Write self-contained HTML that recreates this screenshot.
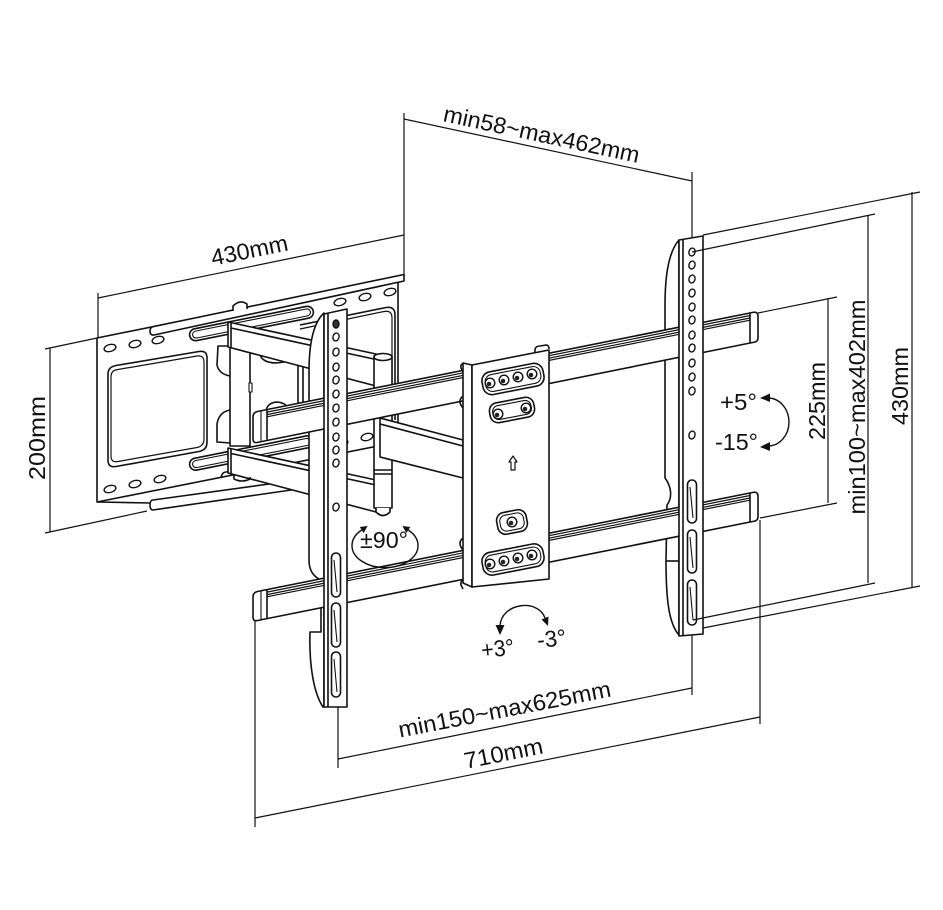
<!DOCTYPE html>
<html><head><meta charset="utf-8">
<style>
html,body{margin:0;padding:0;background:#fff;}
svg{display:block;}
text{font-family:"Liberation Sans",sans-serif;fill:#111;stroke:none;}
</style></head><body>
<svg width="943" height="910" viewBox="0 0 943 910" xmlns="http://www.w3.org/2000/svg">
<rect width="943" height="910" fill="#fff"/>

<!-- dimension lines -->
<g fill="none" stroke="#111" stroke-width="1.2">
<line x1="404" y1="113" x2="404" y2="275"/>
<line x1="692" y1="172" x2="692" y2="248"/>
<line x1="404" y1="119" x2="692" y2="181"/>
<line x1="98" y1="293" x2="98" y2="338"/>
<line x1="98" y1="298" x2="404" y2="235"/>
<line x1="50" y1="348" x2="50" y2="532"/>
<line x1="45" y1="349" x2="97" y2="338"/>
<line x1="45" y1="533" x2="147" y2="511"/>
<line x1="338" y1="698" x2="338" y2="768"/>
<line x1="692" y1="635" x2="692" y2="695"/>
<line x1="338" y1="759" x2="692" y2="688"/>
<line x1="255" y1="621" x2="255" y2="827"/>
<line x1="760" y1="520" x2="760" y2="724"/>
<line x1="255" y1="818" x2="760" y2="717"/>
<line x1="828" y1="298" x2="828" y2="503"/>
<line x1="758" y1="313" x2="837" y2="297"/>
<line x1="760" y1="518" x2="837" y2="503"/>
<line x1="868" y1="215" x2="868" y2="583"/>
<line x1="912" y1="192" x2="912" y2="587"/>
</g>

<!-- dimension texts -->
<g font-size="23">
<text x="251" y="258" text-anchor="middle" textLength="78" lengthAdjust="spacingAndGlyphs" transform="rotate(-11.5 251 258)">430mm</text>
<text x="540" y="142" text-anchor="middle" textLength="200" lengthAdjust="spacingAndGlyphs" transform="rotate(12.1 540 142)">min58~max462mm</text>
<text x="45" y="438" text-anchor="middle" textLength="84" lengthAdjust="spacingAndGlyphs" transform="rotate(-90 45 438)">200mm</text>
<text x="825" y="401" text-anchor="middle" textLength="78" lengthAdjust="spacingAndGlyphs" transform="rotate(-90 825 401)">225mm</text>
<text x="865" y="407" text-anchor="middle" textLength="215" lengthAdjust="spacingAndGlyphs" transform="rotate(-90 865 407)">min100~max402mm</text>
<text x="908" y="386" text-anchor="middle" textLength="78" lengthAdjust="spacingAndGlyphs" transform="rotate(-90 908 386)">430mm</text>
<text x="506" y="717" text-anchor="middle" textLength="216" lengthAdjust="spacingAndGlyphs" transform="rotate(-11 506 717)">min150~max625mm</text>
<text x="505" y="761" text-anchor="middle" textLength="80" lengthAdjust="spacingAndGlyphs" transform="rotate(-11.3 505 761)">710mm</text>
<text x="720" y="410" textLength="37" lengthAdjust="spacingAndGlyphs">+5°</text>
<text x="715" y="450" textLength="43" lengthAdjust="spacingAndGlyphs">-15°</text>
<text x="482" y="658" textLength="33" lengthAdjust="spacingAndGlyphs" transform="rotate(-6 482 658)">+3°</text>
<text x="538" y="648" textLength="29" lengthAdjust="spacingAndGlyphs" transform="rotate(-6 538 648)">-3°</text>
<text x="360" y="548" textLength="48" lengthAdjust="spacingAndGlyphs">±90°</text>
</g>

<g fill="#fff" stroke="#111" stroke-width="1.6" stroke-linejoin="round">
<!-- wall plate -->
<path d="M97,338 L398,277 L398,442 L97,502 Z"/>
<path d="M150,331 Q150,327 154,326.5 L404,274.5 L404,281 L154,335 Q150,335.5 150,331 Z"/>
<line x1="97" y1="502" x2="150" y2="503"/>
<path d="M153,500 L298,480 L298,489 L153,510 Q150,510 150,505 Q150,500 153,500 Z"/>
<!-- ovals -->
<g stroke-width="1.4">
<ellipse cx="110" cy="348" rx="6" ry="3.5" transform="rotate(-15 110 348)"/>
<ellipse cx="135" cy="344" rx="6" ry="3.5" transform="rotate(-15 135 344)"/>
<ellipse cx="158" cy="340" rx="6" ry="3.5" transform="rotate(-15 158 340)"/>
<ellipse cx="110" cy="489" rx="6" ry="3.5" transform="rotate(-15 110 489)"/>
<ellipse cx="135" cy="484" rx="6" ry="3.5" transform="rotate(-15 135 484)"/>
<ellipse cx="160" cy="479" rx="6" ry="3.5" transform="rotate(-15 160 479)"/>
<ellipse cx="340" cy="302" rx="6" ry="3.5" transform="rotate(-15 340 302)"/>
<ellipse cx="365" cy="297" rx="6" ry="3.5" transform="rotate(-15 365 297)"/>
<ellipse cx="390" cy="292" rx="6" ry="3.5" transform="rotate(-15 390 292)"/>
<ellipse cx="342" cy="443" rx="6" ry="3.5" transform="rotate(-15 342 443)"/>
<ellipse cx="367" cy="437" rx="6" ry="3.5" transform="rotate(-15 367 437)"/>
<ellipse cx="390" cy="432" rx="6" ry="3.5" transform="rotate(-15 390 432)"/>
</g>
<!-- long slots -->
<rect x="188.5" y="317.5" width="126" height="12" rx="6" transform="rotate(-11.3 251.5 323.5)"/>
<rect x="191.5" y="320" width="120" height="7" rx="3.5" transform="rotate(-11.3 251.5 323.5)" stroke-width="1.1"/>
<rect x="188.5" y="447" width="126" height="12" rx="6" transform="rotate(-11.3 251.5 453)"/>
<rect x="191.5" y="449.5" width="120" height="7" rx="3.5" transform="rotate(-11.3 251.5 453)" stroke-width="1.1"/>
<!-- big cutout -->
<path d="M116,365.5 L199,351.5 Q207,350 207,358 L207,442 Q207,450 199,451.5 L116,466.5 Q108,468 108,460 L108,374 Q108,367 116,365.5 Z"/>
<path d="M118,369.5 L197,356 Q204,355 204,362 L204,439 Q204,446 197,447.5 L118,461.5 Q111,463 111,456 L111,377 Q111,370 118,369.5 Z" stroke-width="1.2"/>
<!-- right cutout -->
<path d="M300,325 L386,307.5 Q395,306 395,315 L395,420" fill="none"/>
<path d="M300,329 L384,311.5 Q392,310 392,318 L392,420" fill="none" stroke-width="1.2"/>
<!-- knob -->
<path d="M233,311 L233,306 Q240,299 247,304 L247,309"/>

<!-- wall pivot -->
<path d="M230,346 L218,346 L217,365 Q219,374 230,376"/>
<path d="M230,410 Q219,412 217,424 L217,442 L230,443"/>
<rect x="230" y="346" width="20" height="100"/>
<rect x="249" y="383" width="3" height="9" stroke-width="1.1"/>
<path d="M260,349 C258,360 268,365 284,362" fill="none"/>
<path d="M266,414 C265,403 276,399 286,405" fill="none"/>
<line x1="298" y1="360" x2="298" y2="406"/>
<line x1="303" y1="361" x2="303" y2="406"/>

<!-- inner arms -->
<path d="M228,322 L376,354 L376,386 L228,347 Z"/>
<line x1="231" y1="322.6" x2="231" y2="347.6"/>
<line x1="231" y1="328" x2="376" y2="359.5"/>
<path d="M228,448 L376,480 L376,512 L228,473 Z"/>
<line x1="231" y1="448.6" x2="231" y2="473.6"/>
<line x1="231" y1="453.5" x2="376" y2="485"/>
<path d="M221,478 Q222,471 228,472" fill="none"/>
<path d="M234,474 L234,479 Q242,483 250,479 L250,477" fill="none"/>

<!-- mid pivot -->
<rect x="374" y="356" width="18" height="152"/>
<ellipse cx="383" cy="357" rx="9" ry="3.5"/>
<line x1="374" y1="470" x2="392" y2="470"/>
<line x1="374" y1="474" x2="392" y2="474"/>
<path d="M376,508 L376,512 Q383,519 390,512 L390,508"/>

<!-- outer arm -->
<path d="M380,418 L463,440 L463,478 L380,457 Z"/>
<line x1="380" y1="424" x2="463" y2="446"/>

<!-- bracket flanges -->
<path d="M324,313 C314,322 309,342 309,372 L309,560 C309,571 314,577 321,580 L321,632 L310,632 C309,662 313,692 323,707 L324,707 Z"/>
<path d="M679,240 C670,250 665,272 665,305 L665,478 C671,486 673,497 667,505 L666,561 C666,600 669,624 679,635 Z"/>
<line x1="666" y1="561" x2="679" y2="561"/>

<!-- upper rail -->
<path d="M253,417 Q253,412.4 258,411.4 L753,312.4 Q758,311.4 758,316.4 L758,338 Q758,341.4 754.5,342.1 L257,442.5 Q253,443.3 253,438.5 Z"/>
<g fill="none" stroke-width="1.2">
<line x1="267" y1="412.1" x2="750" y2="315.5"/>
<line x1="267" y1="414.6" x2="750" y2="318"/>
<line x1="267" y1="416.8" x2="750" y2="320.2"/>
</g>
<line x1="267" y1="409.6" x2="267" y2="439.6"/>
<line x1="261" y1="411" x2="261" y2="440.8" stroke-width="1.1"/>
<line x1="750" y1="313" x2="750" y2="343"/>
<!-- lower rail -->
<path d="M253,597 Q253,592.4 258,591.4 L753,492.4 Q758,491.4 758,496.4 L758,517 Q758,520.4 754.5,521.1 L257,620.6 Q253,621.4 253,617 Z"/>
<g fill="none" stroke-width="1.2">
<line x1="267" y1="592.1" x2="750" y2="495.5"/>
<line x1="267" y1="594.6" x2="750" y2="498"/>
<line x1="267" y1="596.8" x2="750" y2="500.2"/>
</g>
<line x1="267" y1="589.6" x2="267" y2="618.6"/>
<line x1="261" y1="591" x2="261" y2="619.8" stroke-width="1.1"/>
<line x1="750" y1="493" x2="750" y2="522"/>

<!-- center plate -->
<path d="M472,366 L465,364 Q460,363 461,368 L463,372"/>
<path d="M472,582 L465,580 Q460,580 461,585 L463,589"/>
<path d="M463,363 L472,365 L472,587 L463,583 Z"/>
<path d="M463,396 Q457,401 463,408" fill="none"/>
<path d="M463,538 Q457,543 463,550" fill="none"/>
<path d="M535,353 L535,349 Q536,346 540,346 L546,345 Q549,345 549,349"/>
<path d="M472,365 L549,350 L549,579 L472,587 Z"/>
<!-- slots -->
<rect x="482" y="367.5" width="62" height="23" rx="9" transform="rotate(-11 513 379)"/>
<rect x="485" y="370.5" width="56" height="17" rx="7" transform="rotate(-11 513 379)" stroke-width="1.1"/>
<rect x="489.5" y="400" width="45" height="20" rx="8" transform="rotate(-11 512 410)"/>
<rect x="492.5" y="403" width="39" height="14" rx="6" transform="rotate(-11 512 410)" stroke-width="1.1"/>
<rect x="497" y="511" width="30" height="22" rx="8" transform="rotate(-11 512 522)"/>
<rect x="500" y="514" width="24" height="16" rx="6" transform="rotate(-11 512 522)" stroke-width="1.1"/>
<rect x="482" y="548" width="62" height="23" rx="9" transform="rotate(-11 513 559.5)"/>
<rect x="485" y="551" width="56" height="17" rx="7" transform="rotate(-11 513 559.5)" stroke-width="1.1"/>
<!-- bolts -->
<g stroke-width="1.4">
<circle cx="490" cy="383" r="4.8"/><circle cx="504" cy="380" r="4.8"/><circle cx="518" cy="377" r="4.8"/><circle cx="532" cy="374" r="4.8"/>
<circle cx="498" cy="414" r="4.8"/><circle cx="526" cy="408" r="4.8"/>
<circle cx="512" cy="522" r="4.8"/>
<circle cx="490" cy="564" r="4.8"/><circle cx="504" cy="561" r="4.8"/><circle cx="518" cy="558" r="4.8"/><circle cx="532" cy="555" r="4.8"/>
</g>
<g fill="#222" stroke="none">
<circle cx="489" cy="384" r="2.3"/><circle cx="503" cy="381" r="2.3"/><circle cx="517" cy="378" r="2.3"/><circle cx="531" cy="375" r="2.3"/>
<circle cx="497" cy="415" r="2.3"/><circle cx="525" cy="409" r="2.3"/>
<circle cx="511" cy="523" r="2.3"/>
<circle cx="489" cy="565" r="2.3"/><circle cx="503" cy="562" r="2.3"/><circle cx="517" cy="559" r="2.3"/><circle cx="531" cy="556" r="2.3"/>
</g>
<path d="M513,456 L517,462 L515,462 L515,470 L511,470 L511,462 L509,462 Z" stroke-width="1.2"/>

<!-- left bracket strip -->
<path d="M324,314 L347,309 L347,707 L324,707 Z"/>
<line x1="328" y1="313" x2="328" y2="707"/>
<g stroke-width="1.4">
<ellipse cx="336" cy="324" rx="3" ry="4" fill="#333"/>
<ellipse cx="336" cy="337" rx="3" ry="4" transform="rotate(15 336 337)"/>
<ellipse cx="336" cy="352" rx="3" ry="4" transform="rotate(15 336 352)"/>
<ellipse cx="336" cy="367" rx="3" ry="4" transform="rotate(15 336 367)"/>
<ellipse cx="336" cy="380" rx="3" ry="4" transform="rotate(15 336 380)"/>
<ellipse cx="336" cy="394" rx="3" ry="4" transform="rotate(15 336 394)"/>
<ellipse cx="336" cy="408" rx="3" ry="4" transform="rotate(15 336 408)"/>
<ellipse cx="336" cy="422" rx="3" ry="4" transform="rotate(15 336 422)"/>
<ellipse cx="336" cy="437" rx="3" ry="4" transform="rotate(15 336 437)"/>
<ellipse cx="336" cy="450" rx="3" ry="4" transform="rotate(15 336 450)"/>
<ellipse cx="336" cy="463" rx="3" ry="4" transform="rotate(15 336 463)"/>
<ellipse cx="336" cy="507" rx="3" ry="4" transform="rotate(15 336 507)"/>
</g>
<rect x="331.5" y="553" width="9" height="44" rx="4.5"/>
<rect x="331.5" y="603" width="9" height="44" rx="4.5"/>
<rect x="331.5" y="652" width="9" height="45" rx="4.5"/>
<g stroke-width="1.1"><line x1="334" y1="560" x2="337" y2="592"/><line x1="334" y1="610" x2="337" y2="642"/><line x1="334" y1="659" x2="337" y2="692"/></g>

<!-- right bracket strip -->
<path d="M679,240 L703,236 L703,634 L679,636 Z"/>
<line x1="683" y1="239.5" x2="683" y2="635.5"/>
<g stroke-width="1.4">
<ellipse cx="692" cy="252" rx="3" ry="4" transform="rotate(15 692 252)"/>
<ellipse cx="692" cy="265" rx="3" ry="4" transform="rotate(15 692 265)"/>
<ellipse cx="692" cy="279" rx="3" ry="4" transform="rotate(15 692 279)"/>
<ellipse cx="692" cy="293" rx="3" ry="4" transform="rotate(15 692 293)"/>
<ellipse cx="692" cy="307" rx="3" ry="4" transform="rotate(15 692 307)"/>
<ellipse cx="692" cy="320" rx="3" ry="4" transform="rotate(15 692 320)"/>
<ellipse cx="692" cy="335" rx="3" ry="4" transform="rotate(15 692 335)"/>
<ellipse cx="692" cy="348" rx="3" ry="4" transform="rotate(15 692 348)"/>
<ellipse cx="692" cy="363" rx="3" ry="4" transform="rotate(15 692 363)"/>
<ellipse cx="692" cy="377" rx="3" ry="4" transform="rotate(15 692 377)"/>
<ellipse cx="692" cy="391" rx="3" ry="4" transform="rotate(15 692 391)"/>
<ellipse cx="692" cy="435" rx="3" ry="4" transform="rotate(15 692 435)"/>
</g>
<rect x="687.5" y="480" width="9" height="43" rx="4.5"/>
<rect x="687.5" y="530" width="9" height="43" rx="4.5"/>
<rect x="687.5" y="580" width="9" height="45" rx="4.5"/>
<g stroke-width="1.1"><line x1="690" y1="487" x2="693" y2="518"/><line x1="690" y1="537" x2="693" y2="568"/><line x1="690" y1="587" x2="693" y2="620"/></g>
</g>

<!-- ticks over brackets -->
<g fill="none" stroke="#111" stroke-width="1.2">
<line x1="692" y1="252" x2="875" y2="214"/>
<line x1="703" y1="235" x2="920" y2="192"/>
<line x1="693" y1="620" x2="875" y2="583"/>
<line x1="703" y1="628" x2="920" y2="586"/>
</g>

<!-- rotation annotations -->
<g fill="none" stroke="#111" stroke-width="1.4">
<path d="M768,398 A21,24 0 0 1 768,446"/>
<path d="M500,626 C501,603 538,598 545,618"/>
<path d="M361.7,530 A33,22 0 1 0 408.3,530"/>
</g>
<g fill="#111" stroke="none">
<polygon points="760,398 770,393.5 770,402"/>
<polygon points="760,447 770,442 770,451"/>
<polygon points="500,635 495.5,625 504.5,625"/>
<polygon points="548,626 548.5,616.5 541.5,619.5"/>
<polygon points="367.6,526 363.6,533 359.8,527"/>
<polygon points="402.4,526 410.2,527 406.4,533"/>
</g>
</svg>
</body></html>
